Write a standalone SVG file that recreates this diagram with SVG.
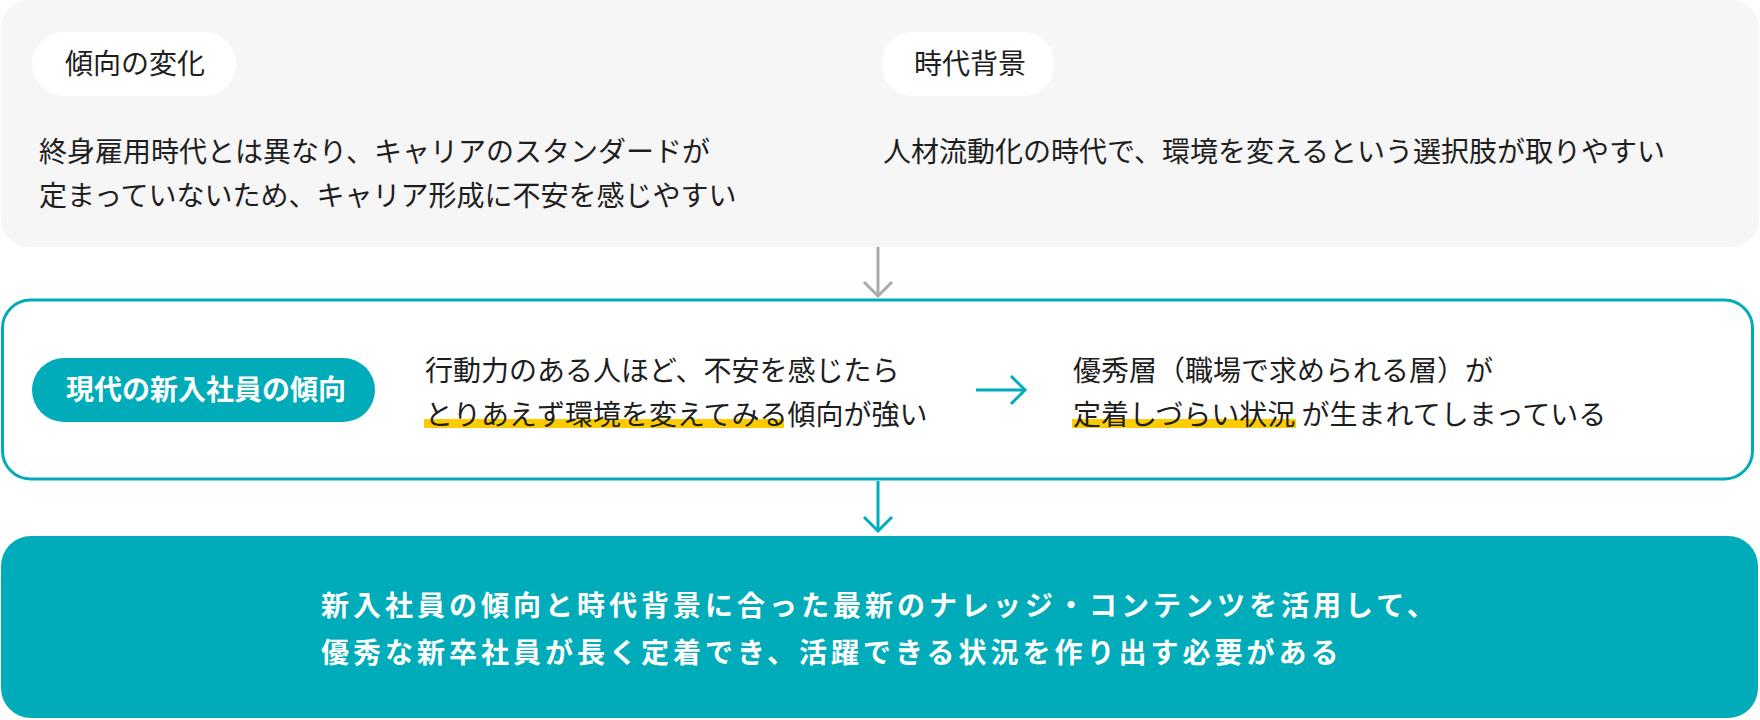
<svg xmlns="http://www.w3.org/2000/svg" width="1760" height="720" viewBox="0 0 1760 720">
  <defs>
    <style>
      .t { font-family: "Noto Sans CJK JP", "Noto Sans", sans-serif; font-size: 28px; fill: #1e1e1e; }
      .tw { font-family: "Noto Sans CJK JP", "Noto Sans", sans-serif; font-size: 28px; fill: #ffffff; font-weight: 700; }
      .tb { font-family: "Noto Sans CJK JP", "Noto Sans", sans-serif; font-size: 28px; fill: #ffffff; font-weight: 700; letter-spacing: 4px; }
      .pill { fill: #ffffff; }
      .hl { fill: #fccc00; }
      .arr-g { fill: none; stroke: #aaaaaa; stroke-width: 3; }
      .arr-t { fill: none; stroke: #00acb9; stroke-width: 3; }
    </style>
  </defs>

  <g id="background-panel">
    <rect x="1" y="0" width="1758" height="247" rx="28" fill="#f6f6f6"/>
  </g>

  <g id="node-trend-change">
    <rect class="pill" x="32" y="32" width="204" height="64" rx="32"/>
    <text class="t" x="65" y="74">傾向の変化</text>
    <text class="t" x="39" y="162">終身雇用時代とは異なり、キャリアのスタンダードが</text>
    <text class="t" x="39" y="206">定まっていないため、キャリア形成に不安を感じやすい</text>
  </g>

  <g id="node-era-background">
    <rect class="pill" x="881" y="32" width="174" height="64" rx="32"/>
    <text class="t" x="914" y="74">時代背景</text>
    <text class="t" x="883" y="162">人材流動化の時代で、環境を変えるという選択肢が取りやすい</text>
  </g>

  <g id="node-new-employees">
    <rect x="2.5" y="300" width="1750" height="179" rx="28" fill="#ffffff" stroke="#00acb9" stroke-width="3"/>
    <rect x="32" y="358" width="343" height="64" rx="32" fill="#00acb9"/>
    <text class="tw" x="66" y="400">現代の新入社員の傾向</text>
    <rect class="hl" x="424" y="419" width="360" height="9"/>
    <text class="t" x="425" y="381">行動力のある人ほど、不安を感じたら</text>
    <text class="t" x="425" y="425">とりあえず環境を変えてみる傾向が強い</text>
    <rect class="hl" x="1072" y="419" width="224" height="9"/>
    <text class="t" x="1073" y="381">優秀層（職場で求められる層）が</text>
    <text class="t" x="1073" y="425">定着しづらい状況 が生まれてしまっている</text>
  </g>

  <g id="node-conclusion">
    <rect x="1" y="536" width="1757" height="182" rx="30" fill="#00acb9"/>
    <text class="tb" x="321" y="616">新入社員の傾向と時代背景に合った最新のナレッジ・コンテンツを活用して、</text>
    <text class="tb" x="321" y="663">優秀な新卒社員が長く定着でき、活躍できる状況を作り出す必要がある</text>
  </g>

  <g id="connectors">
    <line class="arr-g" x1="878" y1="247" x2="878" y2="295"/>
    <polyline class="arr-g" points="864,282 878,296 892,282"/>
    <line class="arr-t" x1="976" y1="390" x2="1024" y2="390"/>
    <polyline class="arr-t" points="1011,376 1025,390 1011,404"/>
    <line class="arr-t" x1="878" y1="481" x2="878" y2="530"/>
    <polyline class="arr-t" points="864,517 878,531 892,517"/>
  </g>
</svg>
